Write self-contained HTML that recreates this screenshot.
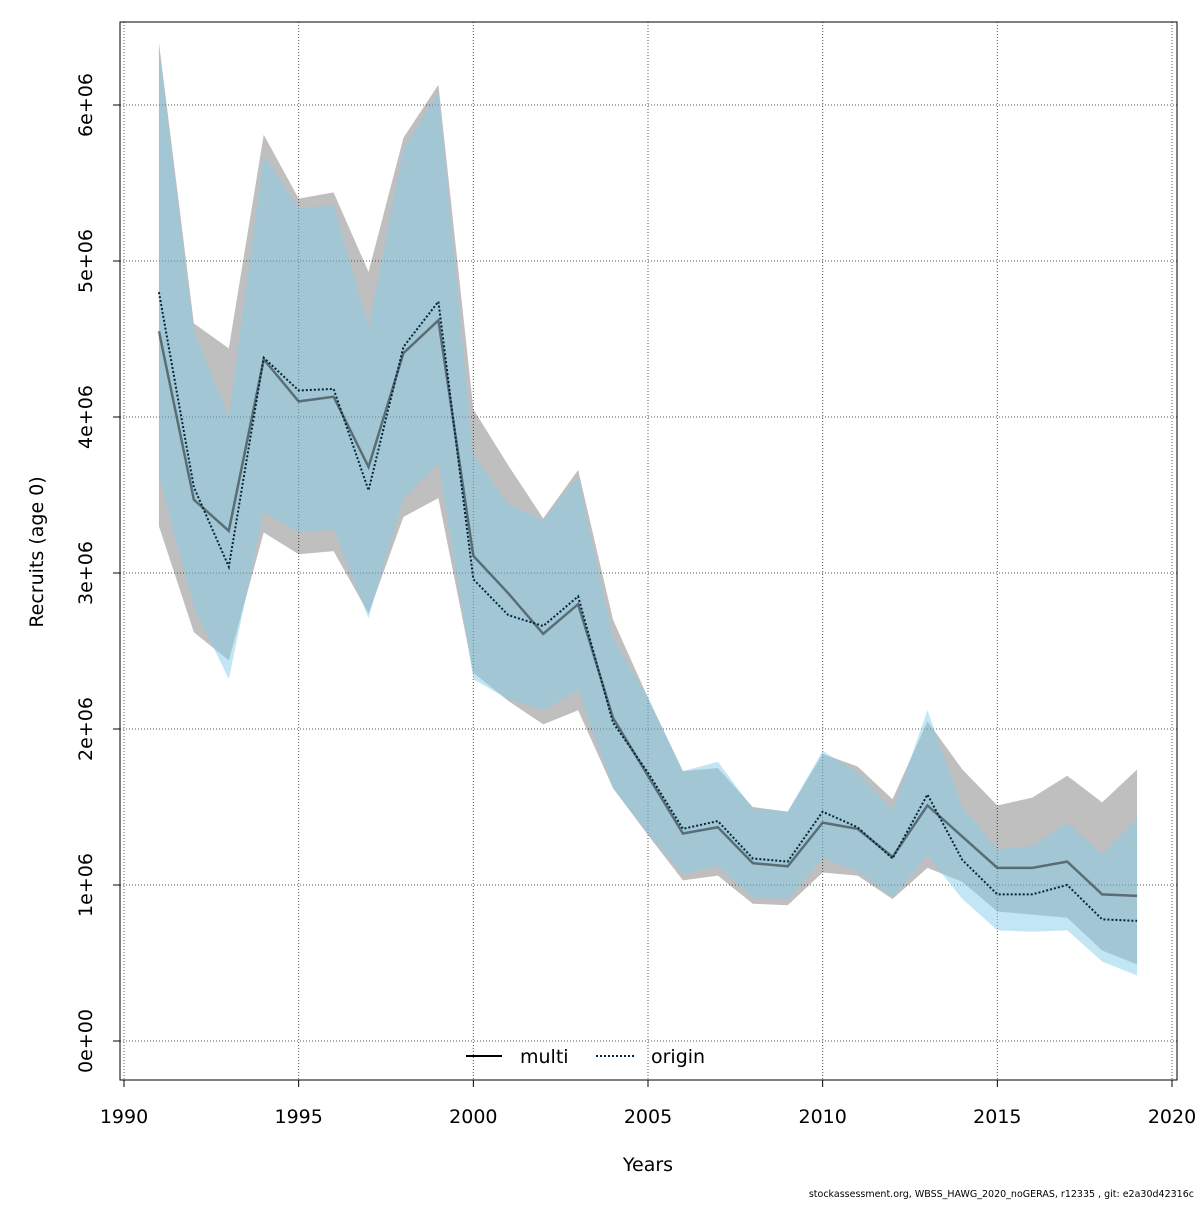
<!DOCTYPE html>
<html><head><meta charset="utf-8"><style>
body{margin:0;background:#fff}
svg text{font-family:"DejaVu Sans","Liberation Sans",sans-serif}
</style></head><body>
<svg id="chart" width="1200" height="1200" xmlns="http://www.w3.org/2000/svg">
<rect x="0" y="0" width="1200" height="1200" fill="#fff"/>
<g id="grid"></g>
<g id="bands"></g>
<g id="lines"></g>
<g id="axes"></g>
<rect x="120" y="22" width="1057" height="1058" fill="none" stroke="#000" stroke-width="1"/>
<text x="648" y="1171" font-size="19" text-anchor="middle">Years</text>
<text transform="translate(43,552) rotate(-90)" font-size="19" text-anchor="middle">Recruits (age 0)</text>
<g>
<g>
<line x1="466" y1="1056" x2="502" y2="1056" stroke="#000" stroke-width="2"/>
<text x="520" y="1063" font-size="19">multi</text></g>
<g>
<line x1="596" y1="1056" x2="634" y2="1056" stroke="#00263d" stroke-width="2" stroke-dasharray="2,2"/>
<text x="651" y="1063" font-size="19">origin</text></g>
</g>
<text x="1194" y="1197" font-size="9.5" text-anchor="end">stockassessment.org, WBSS_HAWG_2020_noGERAS, r12335 , git: e2a30d42316c</text>
</svg>
<script>
const years=[1991,1992,1993,1994,1995,1996,1997,1998,1999,2000,2001,2002,2003,2004,2005,2006,2007,2008,2009,2010,2011,2012,2013,2014,2015,2016,2017,2018,2019];
const multi=[4.55,3.47,3.27,4.37,4.10,4.13,3.68,4.41,4.62,3.11,2.87,2.61,2.80,2.07,1.70,1.33,1.37,1.14,1.12,1.40,1.36,1.18,1.51,1.31,1.11,1.11,1.15,0.94,0.93];
const multiLow=[3.30,2.62,2.44,3.26,3.12,3.14,2.74,3.36,3.48,2.36,2.18,2.03,2.12,1.62,1.32,1.03,1.06,0.88,0.87,1.08,1.06,0.91,1.11,1.02,0.83,0.81,0.79,0.58,0.49];
const multiHigh=[6.40,4.60,4.44,5.81,5.40,5.44,4.93,5.79,6.13,4.05,3.69,3.35,3.66,2.70,2.20,1.73,1.75,1.50,1.47,1.84,1.76,1.55,2.05,1.74,1.51,1.56,1.70,1.53,1.74];
const origin=[4.80,3.55,3.04,4.38,4.17,4.18,3.53,4.45,4.74,2.96,2.73,2.66,2.85,2.04,1.72,1.36,1.41,1.17,1.15,1.47,1.37,1.17,1.58,1.16,0.94,0.94,1.00,0.78,0.77];
const originLow=[3.62,2.78,2.32,3.39,3.26,3.28,2.71,3.48,3.70,2.32,2.19,2.12,2.25,1.62,1.33,1.07,1.12,0.92,0.91,1.17,1.09,0.92,1.19,0.91,0.71,0.70,0.71,0.51,0.42];
const originHigh=[6.35,4.55,4.00,5.68,5.34,5.36,4.58,5.72,6.08,3.76,3.44,3.34,3.62,2.58,2.20,1.73,1.79,1.49,1.47,1.86,1.72,1.48,2.12,1.50,1.23,1.25,1.40,1.20,1.43];
const xTicks=[1990,1995,2000,2005,2010,2015,2020];
const yTicks=[0,1,2,3,4,5,6];
const yLabels=["0e+00","1e+06","2e+06","3e+06","4e+06","5e+06","6e+06"];
const NS="http://www.w3.org/2000/svg";
const X=v=>124+(v-1990)*(1048/30);
const Y=v=>1041-v*156;
function mk(tag,attrs,parent){const e=document.createElementNS(NS,tag);for(const k in attrs)e.setAttribute(k,attrs[k]);parent.appendChild(e);return e;}
const grid=document.getElementById('grid'),axes=document.getElementById('axes'),bands=document.getElementById('bands'),lines=document.getElementById('lines');
xTicks.forEach((t,i)=>{
 const g=mk('line',{x1:X(t),x2:X(t),y1:22,y2:1080,stroke:'#555','stroke-width':1,'stroke-dasharray':'1,2'},grid);
 
 
 const tk=mk('line',{x1:X(t),x2:X(t),y1:1080,y2:1087,stroke:'#000'},axes);
 
 
 const tx=mk('text',{x:X(t),y:1123,'font-size':19,'text-anchor':'middle'},axes);
 tx.textContent=t;
 
 
});
yTicks.forEach((t,i)=>{
 const g=mk('line',{x1:120,x2:1177,y1:Y(t),y2:Y(t),stroke:'#555','stroke-width':1,'stroke-dasharray':'1,2'},grid);
 
 
 const tk=mk('line',{x1:113,x2:120,y1:Y(t),y2:Y(t),stroke:'#000'},axes);
 
 
 const tx=mk('text',{transform:`translate(92,${Y(t)}) rotate(-90)`,'font-size':19,'text-anchor':'middle'},axes);
 tx.textContent=yLabels[i];
 
 
});
function band(lo,hi,fill){
 let pts=years.map((y,i)=>X(y)+','+Y(hi[i]));
 for(let i=years.length-1;i>=0;i--)pts.push(X(years[i])+','+Y(lo[i]));
 return mk('polygon',{points:pts.join(' '),fill:fill},bands);
}
const b1=band(multiLow,multiHigh,'rgba(0,0,0,0.25)');


const b2=band(originLow,originHigh,'rgba(135,206,235,0.5)');


const l1=mk('polyline',{points:years.map((y,i)=>X(y)+','+Y(multi[i])).join(' '),fill:'none',stroke:'rgba(0,0,0,0.45)','stroke-width':2.5},lines);


const l2=mk('polyline',{points:years.map((y,i)=>X(y)+','+Y(origin[i])).join(' '),fill:'none',stroke:'#00263d','stroke-width':2,'stroke-dasharray':'2,2'},lines);


</script>
</body></html>
